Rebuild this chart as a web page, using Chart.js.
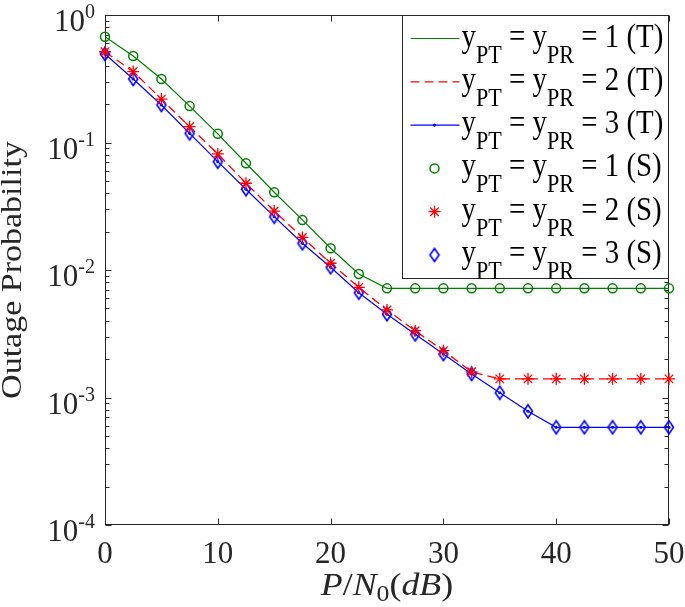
<!DOCTYPE html>
<html>
<head>
<meta charset="utf-8">
<script src="https://cdn.jsdelivr.net/npm/chart.js@4.4.1/dist/chart.umd.min.js"></script>
<style>
  html, body { margin: 0; padding: 0; background: #fff; }
</style>
</head>
<body>
<canvas id="myChart" width="685" height="607"></canvas>
<script>
// P/N0 in dB, one point every 2.5 dB
const snr = [0, 2.5, 5, 7.5, 10, 12.5, 15, 17.5, 20, 22.5, 25, 27.5, 30, 32.5, 35, 37.5, 40, 42.5, 45, 47.5, 50];

// theory curves (T)
const theory1 = [0.676, 0.477, 0.315, 0.193, 0.117, 0.0687, 0.0407, 0.0247, 0.0148, 0.0093, 0.00718,
  0.00718, 0.00718, 0.00718, 0.00718, 0.00718, 0.00718, 0.00718, 0.00718, 0.00718, 0.00718];
const theory2 = [0.515, 0.360, 0.219, 0.133, 0.0813, 0.0479, 0.0290, 0.0180, 0.0113, 0.00731, 0.00486,
  0.00334, 0.00233, 0.00159, 0.00140, 0.00140, 0.00140, 0.00140, 0.00140, 0.00140, 0.00140];
const theory3 = [0.494, 0.315, 0.197, 0.118, 0.0707, 0.0430, 0.0262, 0.0162, 0.0105, 0.00664, 0.00450,
  0.00313, 0.00219, 0.00153, 0.00109, 0.00078, 0.000584, 0.000584, 0.000584, 0.000584, 0.000584];

// simulation markers (S)
const sim1 = [0.676, 0.477, 0.315, 0.193, 0.117, 0.0687, 0.0407, 0.0247, 0.0148, 0.0093, 0.00718,
  0.00718, 0.00718, 0.00718, 0.00718, 0.00718, 0.00718, 0.00718, 0.00718, 0.00718, 0.00718];
const sim2 = [0.515, 0.360, 0.219, 0.133, 0.0813, 0.0479, 0.0290, 0.0180, 0.0113, 0.00731, 0.00486,
  0.00334, 0.00233, 0.00159, 0.00140, 0.00140, 0.00140, 0.00140, 0.00140, 0.00140, 0.00140];
const sim3 = [0.494, 0.315, 0.197, 0.118, 0.0707, 0.0430, 0.0262, 0.0162, 0.0105, 0.00664, 0.00450,
  0.00313, 0.00219, 0.00153, 0.00109, 0.00078, 0.000584, 0.000584, 0.000584, 0.000584, 0.000584];

const seriesLabels = [
  "y_{PT} = y_{PR} = 1 (T)",
  "y_{PT} = y_{PR} = 2 (T)",
  "y_{PT} = y_{PR} = 3 (T)",
  "y_{PT} = y_{PR} = 1 (S)",
  "y_{PT} = y_{PR} = 2 (S)",
  "y_{PT} = y_{PR} = 3 (S)"
];

const yTickLabels = ["10^{0}", "10^{-1}", "10^{-2}", "10^{-3}", "10^{-4}"];
const yTickValues = [1, 0.1, 0.01, 0.001, 0.0001];
const yTitle = "Outage Probability";
// x title: P/N_0(dB), letters in italic
const xTitleRuns = [["P", "i"], ["/", "n"], ["N", "i"], ["0", "sub"], ["(", "n"], ["dB", "i"], [")", "n"]];

const GREEN = "#008000", RED = "#ff0000", BLUE = "#0000ff", AXIS = "#262626";
const SERIF = "'Liberation Serif', 'Times New Roman', serif";

function makeDiamond(color) {
  const c = document.createElement("canvas");
  c.width = 14; c.height = 18;
  const g = c.getContext("2d");
  g.strokeStyle = color;
  g.lineWidth = 1.6;
  g.beginPath();
  g.moveTo(7, 2.5); g.lineTo(11.5, 9); g.lineTo(7, 15.5); g.lineTo(2.5, 9);
  g.closePath();
  g.stroke();
  return c;
}
const diamond = makeDiamond(BLUE);

function pts(arr) {
  return snr.map((x, i) => ({x: x, y: arr[i]}));
}

// split "y_{PT}" / "10^{-1}" into runs
function richParts(str) {
  const parts = [];
  const re = /([_^])\{([^}]*)\}/g;
  let last = 0, m;
  while ((m = re.exec(str))) {
    if (m.index > last) parts.push([str.slice(last, m.index), "n"]);
    parts.push([m[2], m[1] === "_" ? "sub" : "sup"]);
    last = re.lastIndex;
  }
  if (last < str.length) parts.push([str.slice(last), "n"]);
  return parts;
}

function runFont(kind, size, small) {
  if (kind === "i") return "italic " + size + "px " + SERIF;
  if (kind === "sub" || kind === "sup") return small + "px " + SERIF;
  return size + "px " + SERIF;
}

function runsWidth(ctx, runs, size, small) {
  let w = 0;
  runs.forEach(r => { ctx.font = runFont(r[1], size, small); w += ctx.measureText(r[0]).width; });
  return w;
}

// draw runs starting at x, baseline y, squeezed horizontally by sx
function drawRuns(ctx, runs, x, y, o) {
  ctx.save();
  ctx.translate(x, y);
  ctx.scale(o.sx, 1);
  ctx.textAlign = "left";
  ctx.textBaseline = "alphabetic";
  let cx = 0;
  runs.forEach(r => {
    ctx.font = runFont(r[1], o.size, o.small);
    let dy = 0;
    if (r[1] === "sub") dy = o.subDrop;
    if (r[1] === "sup") dy = -o.supRise;
    ctx.fillText(r[0], cx, dy);
    cx += ctx.measureText(r[0]).width;
  });
  ctx.restore();
}

const matlabAxes = {
  id: "matlabAxes",
  beforeDatasetsDraw(chart) {
    const {ctx, chartArea: a, scales: {x, y}} = chart;
    const L = Math.round(a.left) + 0.5, R = Math.round(a.right) - 0.5;
    const T = Math.round(a.top) + 0.5, B = Math.round(a.bottom) - 0.5;
    ctx.save();
    ctx.strokeStyle = AXIS;
    ctx.lineWidth = 1;
    ctx.strokeRect(L, T, R - L, B - T);
    ctx.beginPath();
    x.ticks.forEach(t => {
      const px = Math.round(x.getPixelForValue(t.value)) + 0.5;
      ctx.moveTo(px, B); ctx.lineTo(px, B - 6);
      ctx.moveTo(px, T); ctx.lineTo(px, T + 6);
    });
    for (let e = -4; e <= 0; e++) {
      for (let k = 1; k <= 9; k++) {
        const v = k * Math.pow(10, e);
        if (v > 1) break;
        const py = Math.round(y.getPixelForValue(v)) + 0.5;
        const len = k === 1 ? 6 : 4;
        ctx.moveTo(L, py); ctx.lineTo(L + len, py);
        ctx.moveTo(R, py); ctx.lineTo(R - len, py);
      }
    }
    ctx.stroke();
    ctx.restore();
  },
  afterDraw(chart) {
    const {ctx, chartArea: a, scales: {x, y}} = chart;
    ctx.save();
    ctx.fillStyle = AXIS;

    // y tick labels 10^n
    yTickValues.forEach((v, i) => {
      const py = y.getPixelForValue(v);
      const runs = richParts(yTickLabels[i]);
      const w = runsWidth(ctx, runs, 31, 20);
      drawRuns(ctx, runs, a.left - 10 - w, py + 16, {sx: 1, size: 31, small: 20, subDrop: 0, supRise: 13});
    });

    // y title
    ctx.save();
    ctx.translate(21, (a.top + a.bottom) / 2);
    ctx.rotate(-Math.PI / 2);
    ctx.scale(1, 0.87);
    ctx.font = "34px " + SERIF;
    ctx.textAlign = "center";
    ctx.textBaseline = "alphabetic";
    ctx.fillText(yTitle, 0, 0);
    ctx.restore();

    // x title
    const xo = {sx: 1.12, size: 32, small: 23, subDrop: 6, supRise: 0};
    const xw = runsWidth(ctx, xTitleRuns, xo.size, xo.small) * xo.sx;
    drawRuns(ctx, xTitleRuns, (a.left + a.right) / 2 - xw / 2, 595, xo);

    // legend box, right edge on the axis
    const bx = 402.5, by = 15.5, bw = Math.round(a.right) - 0.5 - bx, bh = 263;
    ctx.fillStyle = "#fff";
    ctx.fillRect(bx, by, bw, bh);
    ctx.strokeStyle = AXIS;
    ctx.lineWidth = 1;
    ctx.strokeRect(bx, by, bw, bh);

    chart.data.datasets.forEach((ds, i) => {
      const cy = 38.5 + i * 43.3;
      ctx.strokeStyle = ds.borderColor;
      ctx.fillStyle = "rgba(0,0,0,0)";
      if (ds.showLine !== false) {
        ctx.lineWidth = ds.borderWidth;
        ctx.setLineDash(ds.borderDash || []);
        ctx.beginPath();
        ctx.moveTo(bx + 8, cy); ctx.lineTo(bx + 57, cy);
        ctx.stroke();
        ctx.setLineDash([]);
        if (ds.pointRadius > 0) {
          ctx.fillStyle = ds.borderColor;
          ctx.beginPath();
          ctx.arc(bx + 32, cy, ds.pointRadius, 0, Math.PI * 2);
          ctx.fill();
        }
      } else {
        ctx.lineWidth = ds.pointBorderWidth;
        Chart.helpers.drawPoint(ctx, {
          pointStyle: ds.pointStyle, radius: ds.pointRadius,
          borderWidth: ds.pointBorderWidth, rotation: 0
        }, bx + 32, cy);
      }
      ctx.fillStyle = "#000";
      drawRuns(ctx, richParts(ds.label), bx + 59, cy + 8, {sx: 0.85, size: 34, small: 26, subDrop: 16, supRise: 0});
    });
    ctx.restore();
  }
};

const chart = new Chart("myChart", {
  type: "line",
  data: {
    datasets: [{
      label: seriesLabels[0], data: pts(theory1),
      borderColor: GREEN, borderWidth: 1.2, pointRadius: 0, order: 1
    }, {
      label: seriesLabels[1], data: pts(theory2),
      borderColor: RED, borderWidth: 1.3, borderDash: [9, 5], pointRadius: 0, order: 1
    }, {
      label: seriesLabels[2], data: pts(theory3),
      borderColor: BLUE, borderWidth: 1.2, pointRadius: 1.6,
      pointBackgroundColor: BLUE, pointBorderWidth: 0, order: 1
    }, {
      label: seriesLabels[3], data: pts(sim1), showLine: false,
      borderColor: GREEN, pointStyle: "circle", pointRadius: 4.5,
      pointBorderWidth: 1.5, pointBackgroundColor: "rgba(0,0,0,0)", order: 0
    }, {
      label: seriesLabels[4], data: pts(sim2), showLine: false,
      borderColor: RED, pointStyle: "star", pointRadius: 6,
      pointBorderWidth: 1.3, order: 0
    }, {
      label: seriesLabels[5], data: pts(sim3), showLine: false,
      borderColor: BLUE, pointStyle: diamond, pointRadius: 6,
      pointBorderWidth: 1.5, order: 0
    }]
  },
  options: {
    responsive: false,
    animation: false,
    devicePixelRatio: 1,
    events: [],
    elements: {line: {tension: 0, fill: false}},
    datasets: {line: {clip: false}},
    layout: {padding: {left: 0, top: 15, right: 16, bottom: 0}},
    plugins: {legend: {display: false}, tooltip: {enabled: false}},
    scales: {
      x: {
        type: "linear", min: 0, max: 50,
        grid: {display: false, drawTicks: false},
        border: {display: false},
        ticks: {stepSize: 10, maxRotation: 0, padding: 11, color: AXIS,
          font: {family: SERIF, size: 31}},
        afterFit: s => { s.height = 82; s.paddingLeft = 0; s.paddingRight = 0; }
      },
      y: {
        type: "logarithmic", min: 0.0001, max: 1,
        grid: {display: false, drawTicks: false},
        border: {display: false},
        ticks: {display: false},
        afterFit: s => { s.width = 105; }
      }
    }
  },
  plugins: [matlabAxes]
});
</script>
</body>
</html>
